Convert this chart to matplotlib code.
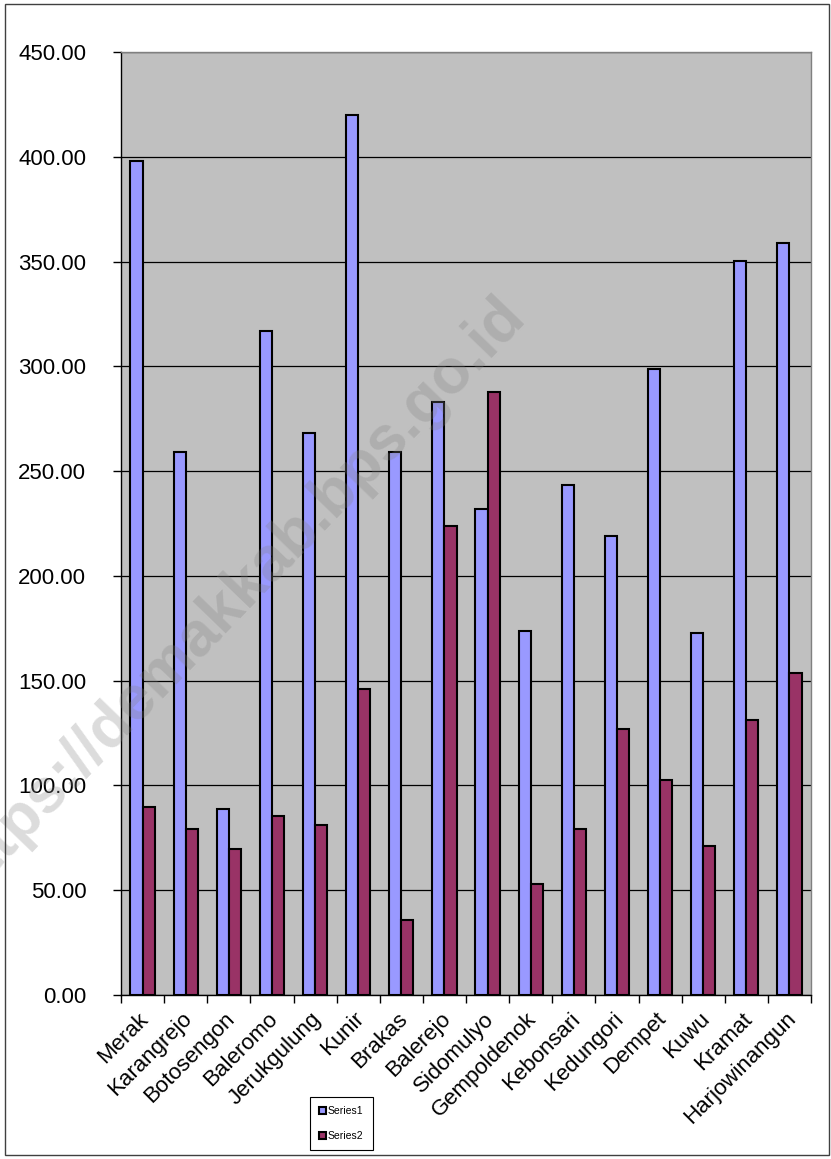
import numpy as np
from matplotlib import pyplot as plt
import matplotlib.ticker as ticker
from matplotlib.patches import Rectangle
from matplotlib.transforms import ScaledTranslation

plt.rcParams['font.family'] = ['Liberation Sans', 'DejaVu Sans']

villages = ['Merak', 'Karangrejo', 'Botosengon', 'Baleromo', 'Jerukgulung', 'Kunir',
            'Brakas', 'Balerejo', 'Sidomulyo', 'Gempoldenok', 'Kebonsari', 'Kedungori',
            'Dempet', 'Kuwu', 'Kramat', 'Harjowinangun']
series1 = [398.0, 259.2, 88.9, 316.9, 268.0, 419.7, 258.9, 283.2, 231.9, 173.7,
           243.2, 218.8, 298.5, 172.7, 350.5, 358.9]
series2 = [89.9, 79.0, 69.8, 85.2, 81.0, 146.0, 35.8, 224.0, 287.8, 53.0,
           79.0, 126.9, 102.6, 71.1, 131.2, 153.5]

fig = plt.figure(figsize=(8.31, 11.59), dpi=100)
ax = fig.add_axes([121/831, 1 - 995/1159, 690/831, 943/1159])
ax.set_facecolor('#C0C0C0')

x = np.arange(len(villages))
w = 0.28
b1 = ax.bar(x - w/2, series1, w, color='#9999FF', edgecolor='black', linewidth=1.5,
            label='Series1', zorder=3)
b2 = ax.bar(x + w/2, series2, w, color='#993366', edgecolor='black', linewidth=1.5,
            label='Series2', zorder=3)

ax.set_xlim(-0.5, len(villages) - 0.5)
ax.set_ylim(0, 450)
ax.yaxis.set_major_locator(ticker.MultipleLocator(50))
ax.yaxis.set_major_formatter(ticker.FormatStrFormatter('%.2f'))
ax.yaxis.grid(True, color='black', linewidth=0.9, zorder=1)
ax.set_axisbelow(True)

ax.set_xticks(x)
ax.set_xticklabels(villages, rotation=45, ha='right', va='center', rotation_mode='anchor')
ax.set_xticks(np.arange(-0.5, len(villages)), minor=True)
ax.tick_params(axis='x', which='major', length=0, pad=15, labelsize=16)
ax.tick_params(axis='x', which='minor', length=6, width=1, color='black', direction='out')
ax.tick_params(axis='y', length=6, width=1, pad=19, labelsize=16, direction='out')
for lab in ax.get_xticklabels():
    lab.set_transform(lab.get_transform() + ScaledTranslation(3/100, 0, fig.dpi_scale_trans))

for side in ['top', 'right']:
    ax.spines[side].set_color('#808080')
    ax.spines[side].set_linewidth(1)
for side in ['left', 'bottom']:
    ax.spines[side].set_color('black')
    ax.spines[side].set_linewidth(1)

# watermark
ax.text(234/831, 1 - 597/1159, 'https://demakkab.bps.go.id', transform=fig.transFigure,
        rotation=46, ha='center', va='center', fontsize=45, fontweight='bold',
        color='#808080', alpha=0.28, zorder=10, clip_on=False)

leg = fig.legend(handles=[b1, b2], loc='upper left', bbox_to_anchor=(310/831, 1 - 1097/1159),
                 fontsize=7.5, frameon=True, fancybox=False, framealpha=1, edgecolor='black',
                 handlelength=0.6, handleheight=0.6, handletextpad=0.2, labelspacing=1.4,
                 borderpad=0.9, borderaxespad=0)
leg.get_frame().set_linewidth(0.8)

fig.patches.append(Rectangle((5/831, 4/1159), 824/831, 1151/1159, transform=fig.transFigure,
                             fill=False, edgecolor='#404040', linewidth=1))

plt.savefig('out.png', dpi=100)
